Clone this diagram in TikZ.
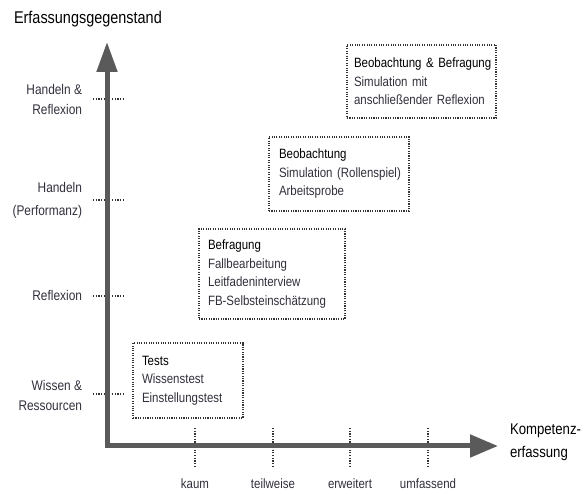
\documentclass[tikz,border=0pt]{standalone}
\usepackage{fontspec}
\setmainfont{Liberation Sans}[FakeStretch=0.85]
\usetikzlibrary{arrows.meta}
\definecolor{axisgray}{HTML}{5A5A5A}
\definecolor{txt}{HTML}{30303C}
\newcommand{\boxline}[1]{\mbox{#1}}
\begin{document}
\begin{tikzpicture}[x=1pt,y=-1pt,
  every node/.style={inner sep=0pt,outer sep=0pt},
  title/.style={font=\fontsize{17}{20}\selectfont,text=black},
  ylab/.style={font=\fontsize{14}{20}\selectfont,text=txt,align=right,anchor=east},
  xlab/.style={font=\fontsize{13.5}{16}\selectfont,text=txt,anchor=base},
  tickline/.style={draw=black!80,line width=1.2pt,dash pattern=on 1.2pt off 1.5pt},
  boxnode/.style={draw=black!80,line width=1.1pt,dash pattern=on 1.1pt off 1.3pt,
    anchor=north west,align=left,inner xsep=9pt,inner ysep=0pt,
    font=\fontsize{13.5}{18.5}\selectfont,text=txt},
  axisline/.style={draw=axisgray,line width=5pt,line join=miter}
]
\useasboundingbox (0,0) rectangle (587,494);

% title
\node[title,anchor=base west] (ttl) at (14,24) {Erfassungsgegenstand};
\node[font=\fontsize{15.5}{22.5}\selectfont,align=left,anchor=north west,text=black] (xax) at (510,424) {Kompetenz-\\erfassung};

% y labels
\node[ylab] (yl1) at (82,99) {Handeln \&\\Reflexion};
\node[ylab,font=\fontsize{14}{23}\selectfont] (yl2) at (82,200) {Handeln\\(Performanz)};
\node[ylab] (yl3) at (82,295) {Reflexion};
\node[ylab] (yl4) at (82,395) {Wissen \&\\Ressourcen};

% x labels
\node[xlab] (xl1) at (195,489) {kaum};
\node[xlab] (xl2) at (273,489) {teilweise};
\node[xlab] (xl3) at (350,489) {erweitert};
\node[xlab] (xl4) at (428,489) {umfassend};

% ticks
\foreach \n/\y in {1/99,2/200,3/296,4/394}{
  \coordinate (ya\n) at (93,\y); \coordinate (yb\n) at (123,\y);
  \draw[tickline] (ya\n) -- (yb\n);
}
\foreach \n/\x in {1/195,2/273,3/350,4/428}{
  \coordinate (xa\n) at (\x,428); \coordinate (xb\n) at (\x,467);
  \draw[tickline] (xa\n) -- (xb\n);
}

% axes
\coordinate (ytip) at (107,42);
\coordinate (orig) at (107,446);
\coordinate (xtip) at (498,446);
\draw[axisline,{Triangle[length=30pt,width=20pt]}-{Triangle[length=28pt,width=22pt]}] (ytip) -- (orig) -- (xtip);

% boxes
\node[boxnode,text width=92pt,minimum height=75pt] (b1) at (133,343)
  {\boxline{\textcolor{black}{Tests}}\\\boxline{Wissenstest}\\\boxline{Einstellungstest}};
\node[boxnode,text width=128pt,minimum height=90pt] (b2) at (199,229)
  {\boxline{\textcolor{black}{Befragung}}\\\boxline{Fallbearbeitung}\\\boxline{Leitfadeninterview}\\\boxline{FB-Selbsteinschätzung}};
\node[boxnode,inner xsep=10pt,text width=120pt,minimum height=74pt] (b3) at (269,137)
  {\boxline{\textcolor{black}{Beobachtung}}\\\boxline{Simulation (Rollenspiel)}\\\boxline{Arbeitsprobe}};
\node[boxnode,inner xsep=7pt,text width=135pt,minimum height=73pt] (b4) at (347,45)
  {\boxline{\textcolor{black}{Beobachtung \& Befragung}}\\\boxline{Simulation mit}\\\boxline{anschließender Reflexion}};
\end{tikzpicture}
\end{document}
